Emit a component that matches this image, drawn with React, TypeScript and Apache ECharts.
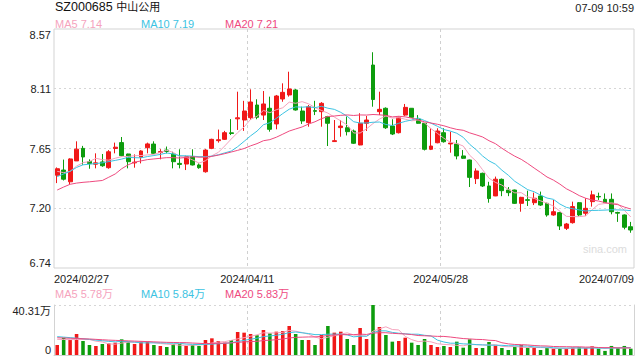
import React, { useEffect, useRef } from "react";
import * as echarts from "echarts";

const dates: string[] = [
  "2024/02/27", "2024/02/28", "2024/02/29", "2024/03/01", "2024/03/04", "2024/03/05", "2024/03/06", "2024/03/07", "2024/03/08",
  "2024/03/11", "2024/03/12", "2024/03/13", "2024/03/14", "2024/03/15", "2024/03/18", "2024/03/19", "2024/03/20", "2024/03/21",
  "2024/03/22", "2024/03/25", "2024/03/26", "2024/03/27", "2024/03/28", "2024/03/29", "2024/04/01", "2024/04/02", "2024/04/03",
  "2024/04/08", "2024/04/09", "2024/04/10", "2024/04/11", "2024/04/12", "2024/04/15", "2024/04/16", "2024/04/17", "2024/04/18",
  "2024/04/19", "2024/04/22", "2024/04/23", "2024/04/24", "2024/04/25", "2024/04/26", "2024/04/29", "2024/04/30", "2024/05/06",
  "2024/05/07", "2024/05/08", "2024/05/09", "2024/05/10", "2024/05/13", "2024/05/14", "2024/05/15", "2024/05/16", "2024/05/17",
  "2024/05/20", "2024/05/21", "2024/05/22", "2024/05/23", "2024/05/24", "2024/05/27", "2024/05/28", "2024/05/29", "2024/05/30",
  "2024/05/31", "2024/06/03", "2024/06/04", "2024/06/05", "2024/06/06", "2024/06/07", "2024/06/11", "2024/06/12", "2024/06/13",
  "2024/06/14", "2024/06/17", "2024/06/18", "2024/06/19", "2024/06/20", "2024/06/21", "2024/06/24", "2024/06/25", "2024/06/26",
  "2024/06/27", "2024/06/28", "2024/07/01", "2024/07/02", "2024/07/03", "2024/07/04", "2024/07/05", "2024/07/08", "2024/07/09",
];

const opens: number[] = [
  7.45, 7.49, 7.40, 7.56, 7.656, 7.555, 7.535, 7.552, 7.508, 7.655,
  7.70, 7.613, 7.545, 7.588, 7.661, 7.689, 7.625, 7.643, 7.613, 7.541,
  7.536, 7.592, 7.529, 7.477, 7.656, 7.715, 7.725, 7.775, 7.882, 7.873,
  7.891, 7.988, 7.911, 7.963, 7.843, 8.034, 8.065, 8.103, 7.942, 7.853,
  7.945, 7.937, 7.899, 7.708, 7.815, 7.814, 7.789, 7.682, 7.848, 8.294,
  7.937, 7.963, 7.827, 7.776, 7.911, 7.963, 7.879, 7.848, 7.649, 7.699,
  7.776, 7.69, 7.689, 7.598, 7.567, 7.424, 7.465, 7.368, 7.292, 7.419,
  7.337, 7.337, 7.235, 7.263, 7.24, 7.291, 7.235, 7.146, 7.164, 7.044,
  7.087, 7.24, 7.159, 7.248, 7.288, 7.266, 7.266, 7.165, 7.146, 7.056,
];
const closes: number[] = [
  7.50, 7.42, 7.575, 7.65, 7.59, 7.54, 7.545, 7.523, 7.63, 7.665,
  7.60, 7.554, 7.55, 7.636, 7.69, 7.618, 7.632, 7.632, 7.554, 7.533,
  7.592, 7.529, 7.508, 7.643, 7.725, 7.722, 7.776, 7.77, 7.89, 7.942,
  8.011, 7.894, 7.996, 7.802, 8.057, 8.085, 8.111, 7.95, 7.866, 7.975,
  7.94, 8.001, 7.848, 7.715, 7.827, 7.784, 7.695, 7.848, 7.873, 8.03,
  7.955, 7.814, 7.766, 7.891, 7.97, 7.894, 7.848, 7.649, 7.674, 7.789,
  7.707, 7.697, 7.598, 7.58, 7.434, 7.483, 7.368, 7.272, 7.42, 7.332,
  7.317, 7.235, 7.281, 7.258, 7.274, 7.222, 7.146, 7.171, 7.062, 7.077,
  7.21, 7.146, 7.197, 7.30, 7.284, 7.24, 7.171, 7.16, 7.052, 7.031,
];
const highs: number[] = [
  7.51, 7.57, 7.58, 7.71, 7.675, 7.572, 7.618, 7.613, 7.643, 7.70,
  7.743, 7.615, 7.61, 7.642, 7.70, 7.71, 7.65, 7.67, 7.63, 7.649,
  7.60, 7.649, 7.541, 7.65, 7.73, 7.80, 7.79, 7.88, 8.09, 8.02,
  8.108, 8.032, 8.095, 8.052, 8.065, 8.154, 8.243, 8.11, 7.975, 7.988,
  8.02, 8.01, 7.905, 7.873, 7.873, 7.90, 7.80, 7.925, 7.904, 8.392,
  8.09, 7.97, 7.879, 7.90, 7.996, 7.965, 7.911, 7.85, 7.81, 7.81,
  7.81, 7.784, 7.72, 7.643, 7.57, 7.503, 7.47, 7.40, 7.44, 7.425,
  7.36, 7.34, 7.285, 7.332, 7.317, 7.325, 7.24, 7.261, 7.17, 7.085,
  7.248, 7.245, 7.274, 7.332, 7.317, 7.311, 7.311, 7.171, 7.15, 7.093,
];
const lows: number[] = [
  7.39, 7.41, 7.38, 7.56, 7.53, 7.50, 7.503, 7.515, 7.50, 7.618,
  7.595, 7.503, 7.508, 7.541, 7.618, 7.615, 7.572, 7.618, 7.503, 7.503,
  7.49, 7.525, 7.50, 7.47, 7.65, 7.70, 7.72, 7.758, 7.797, 7.79,
  7.873, 7.879, 7.873, 7.784, 7.802, 8.013, 8.052, 7.945, 7.843, 7.822,
  7.911, 7.822, 7.674, 7.705, 7.745, 7.755, 7.69, 7.68, 7.789, 7.975,
  7.911, 7.805, 7.758, 7.77, 7.905, 7.89, 7.845, 7.64, 7.643, 7.695,
  7.70, 7.623, 7.572, 7.575, 7.36, 7.383, 7.36, 7.24, 7.29, 7.29,
  7.29, 7.23, 7.171, 7.215, 7.222, 7.215, 7.133, 7.14, 7.031, 7.031,
  7.08, 7.135, 7.14, 7.21, 7.261, 7.235, 7.151, 7.093, 7.036, 7.01,
];
// volume, in 万 (10,000 shares)
const volumes: number[] = [
  8.06, 13.95, 12.09, 16.93, 11.29, 8.06, 7.26, 8.87, 9.4, 9.94,
  12.63, 10.75, 8.87, 10.75, 11.29, 8.06, 7.26, 6.45, 8.87, 8.87,
  7.26, 8.06, 7.26, 12.09, 13.44, 11.29, 9.94, 12.09, 18.54, 18.0,
  16.93, 15.85, 20.16, 17.47, 18.81, 19.35, 23.38, 16.93, 12.09, 12.09,
  8.06, 16.12, 23.38, 18.0, 18.81, 12.9, 8.06, 21.77, 12.9, 40.31,
  22.57, 16.12, 10.75, 11.29, 13.95, 9.94, 8.06, 12.9, 8.06, 6.45,
  7.26, 6.45, 10.75, 5.91, 12.63, 5.64, 5.64, 10.48, 7.52, 5.64,
  4.03, 6.45, 8.06, 5.91, 5.64, 4.03, 5.64, 5.1, 5.64, 5.1,
  5.91, 6.45, 5.64, 6.99, 5.1, 3.3, 7.3, 5.64, 7.3, 5.1,
];

// moving-average values before a full window is available
const ma5Head: number[] = [7.48, 7.47, 7.48, 7.52];
const ma10Head: number[] = [7.44, 7.46, 7.48, 7.51, 7.53, 7.535, 7.54, 7.545, 7.555];
const ma20Head: number[] = [7.337, 7.36, 7.381, 7.39, 7.396, 7.40, 7.405, 7.41, 7.435, 7.46, 7.50, 7.53, 7.55, 7.56, 7.57, 7.575, 7.58, 7.585, 7.585];
const volMa5Head: number[] = [12.6, 12.5, 12.4, 12.5];
const volMa10Head: number[] = [14.8, 14.4, 14.0, 13.6, 13.1, 12.6, 12.0, 11.5, 11.0];
const volMa20Head: number[] = [13.9, 13.7, 13.5, 13.3, 13.1, 12.9, 12.6, 12.3, 12.0, 11.8, 11.6, 11.4, 11.2, 11.0, 10.8, 10.6, 10.4, 10.2, 10.1];

const maNames: string[] = ["MA5", "MA10", "MA20"];
const maLegend: string[] = ["7.14", "7.19", "7.21"];
const volMaLegend: string[] = ["5.78万", "5.84万", "5.83万"];

const yMin = 6.74;
const yMax = 8.57;
const yTickLabels: string[] = ["6.74", "7.20", "7.65", "8.11", "8.57"];
const volMax = 40.31;
const volTickLabels: string[] = ["0", "40.31万"];
const xTickLabels: string[] = ["2024/02/27", "2024/04/11", "2024/05/28", "2024/07/09"];

const title = "SZ000685";
const titleName = "中山公用";
const timeStamp = "07-09 10:59";

const UP = "#f01818";
const DOWN = "#0d9c0d";
const MA_COLORS = ["#f5a3bd", "#3cc3e2", "#ee4a7f"];
const FONT = 'Arial, "Liberation Sans", "Noto Sans CJK SC", sans-serif';

function movingAverage(values: number[], n: number, head: number[]): number[] {
  return values.map((_, i) => {
    if (i < n - 1) return head[i];
    let s = 0;
    for (let k = i - n + 1; k <= i; k++) s += values[k];
    return +(s / n).toFixed(4);
  });
}

export default function App() {
  const ref = useRef<HTMLDivElement>(null);
  useEffect(() => {
    if (!ref.current) return;
    const chart = echarts.init(ref.current, undefined, { renderer: "svg" });
    const n = dates.length;
    const yStep = (yMax - yMin) / 4;
    const mas = [
      movingAverage(closes, 5, ma5Head),
      movingAverage(closes, 10, ma10Head),
      movingAverage(closes, 20, ma20Head),
    ];
    const vmas = [
      movingAverage(volumes, 5, volMa5Head),
      movingAverage(volumes, 10, volMa10Head),
      movingAverage(volumes, 20, volMa20Head),
    ];
    const legendX = [55, 141, 225];
    const graphics: any[] = [
      {
        type: "text",
        left: 55,
        top: 1,
        style: {
          text: "{a|" + title + " }{b|" + titleName + "}",
          rich: {
            a: { fontSize: 12.5, fill: "#111", fontFamily: FONT },
            b: { fontSize: 11, fill: "#111", fontFamily: FONT },
          },
        },
      },
      {
        type: "text",
        right: 6,
        top: 2,
        style: { text: timeStamp, fontSize: 11, fill: "#222", fontFamily: FONT },
      },
      {
        type: "text",
        left: 583,
        top: 243,
        style: { text: "sina.com", fontSize: 11, fill: "#dcdcdc", fontFamily: FONT },
      },
    ];
    maNames.forEach((nm, k) => {
      graphics.push({
        type: "text",
        left: legendX[k],
        top: 18,
        style: { text: nm + " " + maLegend[k], fontSize: 11, fill: MA_COLORS[k], fontFamily: FONT },
      });
      graphics.push({
        type: "text",
        left: legendX[k],
        top: 288.5,
        style: { text: nm + " " + volMaLegend[k], fontSize: 11, fill: MA_COLORS[k], fontFamily: FONT },
      });
    });

    const gridLine = { color: "#d6d6d6", type: [2, 3] as number[], width: 1 };
    const vLine = { color: "#d0d0d0", type: [3, 3] as number[], width: 1 };

    chart.setOption({
      animation: false,
      textStyle: { fontFamily: FONT },
      grid: [
        { left: 54, right: 6, top: 29, height: 239, show: true, borderColor: "#d3d3d3", borderWidth: 1, containLabel: false },
        { left: 54, right: 6, top: 305, height: 50, show: false, containLabel: false },
      ],
      xAxis: [
        {
          type: "category", gridIndex: 0, data: dates, boundaryGap: true, position: "top",
          axisLine: { show: false }, axisTick: { show: false }, axisLabel: { show: false }, splitLine: { show: false },
        },
        {
          type: "value", gridIndex: 0, min: 0, max: n, interval: n / 3, position: "bottom",
          axisLine: { show: false }, axisTick: { show: false },
          axisLabel: {
            fontSize: 11, color: "#222", margin: 5, alignMinLabel: "left", alignMaxLabel: "right",
            formatter: (v: number) => xTickLabels[Math.round(v / (n / 3))] ?? "",
          },
          splitLine: { show: true, showMinLine: false, showMaxLine: false, lineStyle: vLine },
        },
        {
          type: "category", gridIndex: 1, data: dates, boundaryGap: true, position: "top",
          axisLine: { show: false }, axisTick: { show: false }, axisLabel: { show: false }, splitLine: { show: false },
        },
        {
          type: "value", gridIndex: 1, min: 0, max: n, interval: n / 3, position: "bottom",
          axisLine: { show: true, lineStyle: { color: "#d3d3d3" } }, axisTick: { show: false },
          axisLabel: { show: false },
          splitLine: { show: true, showMinLine: false, showMaxLine: false, lineStyle: vLine },
        },
      ],
      yAxis: [
        {
          type: "value", gridIndex: 0, min: yMin, max: yMax, interval: yStep, scale: true,
          axisLine: { show: false }, axisTick: { show: false },
          axisLabel: {
            fontSize: 11, color: "#222", margin: 3,
            verticalAlignMinLabel: "bottom", verticalAlignMaxLabel: "top",
            formatter: (v: number) => yTickLabels[Math.round((v - yMin) / yStep)] ?? "",
          },
          splitLine: { show: true, showMinLine: false, showMaxLine: false, lineStyle: gridLine },
        },
        {
          type: "value", gridIndex: 1, min: 0, max: volMax, interval: volMax,
          axisLine: { show: true, lineStyle: { color: "#d3d3d3" } }, axisTick: { show: false },
          axisLabel: {
            fontSize: 11, color: "#222", margin: 3,
            verticalAlignMinLabel: "bottom", verticalAlignMaxLabel: "top",
            formatter: (v: number) => (v > 0 ? volTickLabels[1] : volTickLabels[0]),
          },
          splitLine: { show: true, showMinLine: false, lineStyle: gridLine },
        },
        {
          type: "value", gridIndex: 1, min: 0, max: volMax, interval: volMax, position: "right",
          axisLine: { show: true, lineStyle: { color: "#d3d3d3" } }, axisTick: { show: false },
          axisLabel: { show: false }, splitLine: { show: false },
        },
      ],
      series: [
        {
          type: "candlestick", xAxisIndex: 0, yAxisIndex: 0, barWidth: "68%",
          data: dates.map((_, i) => [opens[i], closes[i], lows[i], highs[i]]),
          itemStyle: { color: UP, color0: DOWN, borderColor: UP, borderColor0: DOWN, borderWidth: 1 },
        },
        ...mas.map((d, k) => ({
          type: "line", xAxisIndex: 0, yAxisIndex: 0, data: d, showSymbol: false, symbol: "none",
          lineStyle: { color: MA_COLORS[k], width: 1 }, z: 3,
        })),
        {
          type: "bar", xAxisIndex: 2, yAxisIndex: 1, barWidth: "55%",
          data: volumes.map((v, i) => ({ value: v, itemStyle: { color: closes[i] >= opens[i] ? UP : DOWN } })),
        },
        ...vmas.map((d, k) => ({
          type: "line", xAxisIndex: 2, yAxisIndex: 1, data: d, showSymbol: false, symbol: "none",
          lineStyle: { color: MA_COLORS[k], width: 1 }, z: 3,
        })),
      ],
      graphic: graphics,
    });
    return () => chart.dispose();
  }, []);
  return <div ref={ref} style={{ position: "fixed", left: 0, top: 0, width: 640, height: 360, background: "#fff" }} />;
}
